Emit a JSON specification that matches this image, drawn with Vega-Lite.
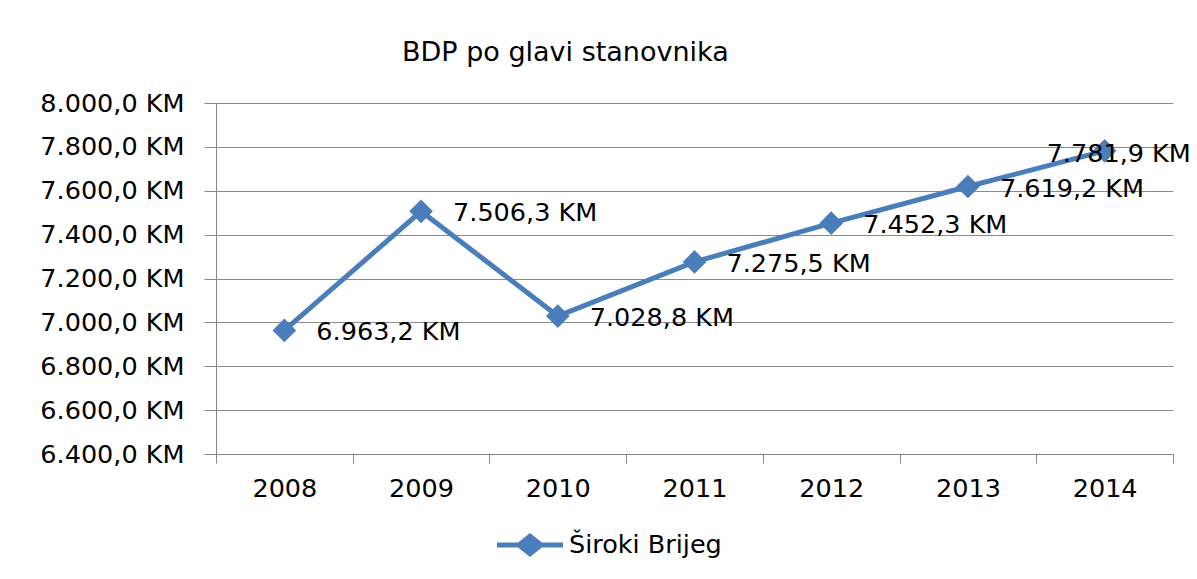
{
  "$schema": "https://vega.github.io/schema/vega-lite/v6.json",
  "width": 957,
  "height": 351,
  "autosize": {"type": "none"},
  "padding": {"left": 216, "top": 103, "right": 24, "bottom": 125},
  "background": "white",
  "config": {
    "locale": {"number": {"decimal": ",", "thousands": ".", "grouping": [3], "currency": ["", " KM"]}},
    "view": {"stroke": null},
    "font": "DejaVu Sans"
  },
  "title": {"text": "BDP po glavi stanovnika", "anchor": "start", "frame": "group", "dx": 186, "offset": 24, "font": "DejaVu Sans", "fontSize": 27, "fontWeight": "normal", "color": "#000000"},
  "data": {"values": [
    {"godina": 2008, "bdp": 6963.2, "serija": "Široki Brijeg"},
    {"godina": 2009, "bdp": 7506.3, "serija": "Široki Brijeg"},
    {"godina": 2010, "bdp": 7028.8, "serija": "Široki Brijeg"},
    {"godina": 2011, "bdp": 7275.5, "serija": "Široki Brijeg"},
    {"godina": 2012, "bdp": 7452.3, "serija": "Široki Brijeg"},
    {"godina": 2013, "bdp": 7619.2, "serija": "Široki Brijeg"},
    {"godina": 2014, "bdp": 7781.9, "serija": "Široki Brijeg"}
  ]},
  "encoding": {
    "x": {
      "field": "godina", "type": "ordinal", "bandPosition": 0.5,
      "scale": {"type": "band", "paddingInner": 0, "paddingOuter": 0},
      "axis": {"title": null, "labelAngle": 0, "tickBand": "extent", "tickSize": 9, "tickColor": "#868686", "domainColor": "#868686", "labelPadding": 13, "labelFont": "DejaVu Sans", "labelFontSize": 25.5, "labelColor": "#000000", "grid": false, "labelBaseline": "top"}
    },
    "y": {
      "field": "bdp", "type": "quantitative",
      "scale": {"domain": [6400, 8000], "nice": false, "zero": false},
      "axis": {"title": null, "values": [6400, 6600, 6800, 7000, 7200, 7400, 7600, 7800, 8000], "format": "$,.1f", "tickSize": 12, "tickColor": "#868686", "domainColor": "#868686", "gridColor": "#8c8c8c", "labelPadding": 20, "labelFont": "DejaVu Sans", "labelFontSize": 25.5, "labelColor": "#000000"}
    }
  },
  "layer": [
    {"mark": {"type": "line", "strokeWidth": 5, "color": "#4A7EBB"}},
    {
      "mark": {"type": "point", "shape": "diamond", "filled": true, "size": 560, "opacity": 1},
      "encoding": {
        "color": {
          "field": "serija", "type": "nominal",
          "scale": {"range": ["#4A7EBB"]},
          "legend": {"title": null, "orient": "none", "legendX": 281, "legendY": 409, "symbolType": "M-1,-0.076H-0.36L0,-0.36L0.36,-0.076H1V0.076H0.36L0,0.36L-0.36,0.076H-1Z", "symbolSize": 4356, "symbolStrokeWidth": 0, "labelFont": "DejaVu Sans", "labelFontSize": 25.5, "labelColor": "#000000", "labelOffset": 6}
        }
      }
    },
    {
      "transform": [{"filter": "datum.godina < 2014"}],
      "mark": {"type": "text", "align": "left", "baseline": "middle", "dx": 32, "dy": 2, "font": "DejaVu Sans", "fontSize": 25.5, "color": "#000000"},
      "encoding": {"text": {"field": "bdp", "type": "quantitative", "format": "$,.1f"}}
    },
    {
      "transform": [{"filter": "datum.godina == 2014"}],
      "mark": {"type": "text", "align": "left", "baseline": "middle", "dx": -58, "dy": 3, "font": "DejaVu Sans", "fontSize": 25.5, "color": "#000000"},
      "encoding": {"text": {"field": "bdp", "type": "quantitative", "format": "$,.1f"}}
    }
  ]
}
